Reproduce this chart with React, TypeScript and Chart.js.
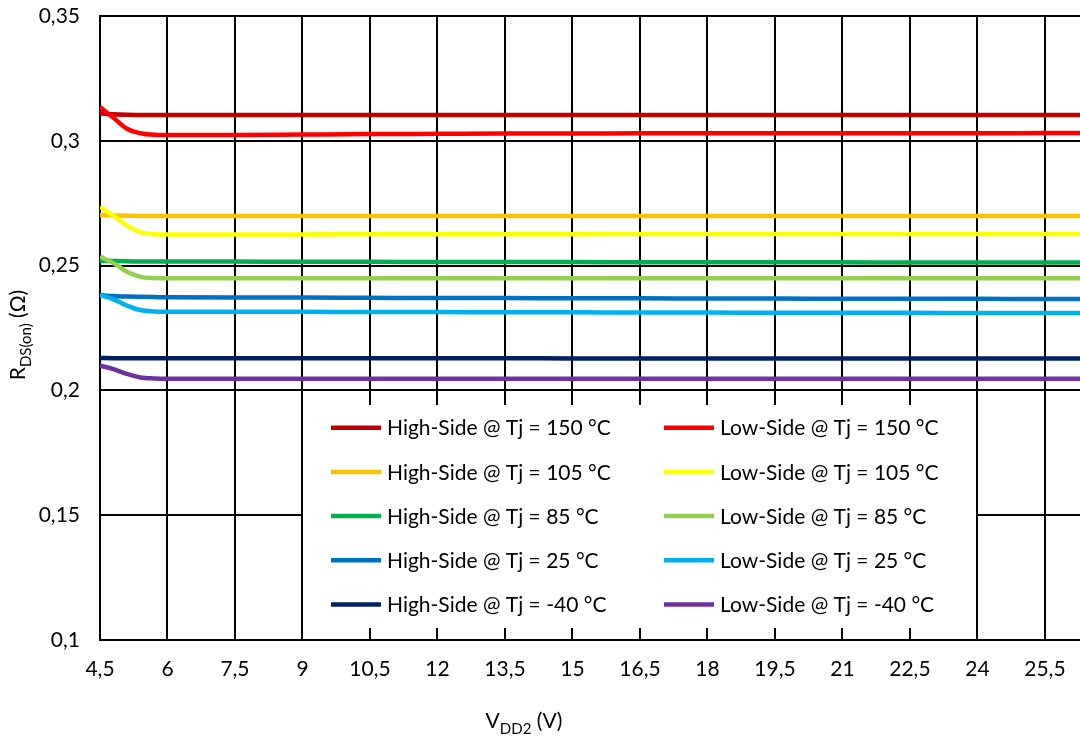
import React, { useEffect, useRef } from 'react';
import { Chart, registerables } from 'chart.js';

Chart.register(...registerables);

const X_VALUES = [4.5, 4.8, 5.1, 5.4, 5.7, 6, 7.5, 9, 10.5, 12, 13.5, 15, 16.5, 18, 19.5, 21, 22.5, 24, 25.5, 27];
const X_TICKS = [4.5, 6, 7.5, 9, 10.5, 12, 13.5, 15, 16.5, 18, 19.5, 21, 22.5, 24, 25.5];
const Y_TICKS = [0.1, 0.15, 0.2, 0.25, 0.3, 0.35];

const SERIES_LABELS = [
  'High-Side @ Tj = 150 °C',
  'Low-Side @ Tj = 150 °C',
  'High-Side @ Tj = 105 °C',
  'Low-Side @ Tj = 105 °C',
  'High-Side @ Tj = 85 °C',
  'Low-Side @ Tj = 85 °C',
  'High-Side @ Tj = 25 °C',
  'Low-Side @ Tj = 25 °C',
  'High-Side @ Tj = -40 °C',
  'Low-Side @ Tj = -40 °C',
];
const SERIES_COLORS = [
  '#C00000', '#FF0000',
  '#FFC000', '#FFFF00',
  '#00B050', '#92D050',
  '#0070C0', '#00B0F0',
  '#002060', '#7030A0',
];

const HS_150 = [0.3110, 0.3106, 0.3104, 0.3103, 0.3103, 0.3103, 0.3103, 0.3103, 0.3103, 0.3103, 0.3103, 0.3103, 0.3103, 0.3103, 0.3103, 0.3103, 0.3103, 0.3103, 0.3103, 0.3103];
const LS_150 = [0.3135, 0.3092, 0.3048, 0.3030, 0.3024, 0.3023, 0.3023, 0.3025, 0.3027, 0.3028, 0.3029, 0.3029, 0.3030, 0.3030, 0.3030, 0.3030, 0.3030, 0.3030, 0.3031, 0.3031];
const HS_105 = [0.2703, 0.2701, 0.2700, 0.2699, 0.2699, 0.2699, 0.2699, 0.2699, 0.2699, 0.2699, 0.2699, 0.2699, 0.2699, 0.2699, 0.2699, 0.2699, 0.2699, 0.2699, 0.2699, 0.2699];
const LS_105 = [0.2735, 0.2700, 0.2660, 0.2633, 0.2626, 0.2625, 0.2625, 0.2625, 0.2626, 0.2626, 0.2626, 0.2626, 0.2627, 0.2627, 0.2627, 0.2627, 0.2627, 0.2627, 0.2627, 0.2627];
const HS_85 = [0.2519, 0.2518, 0.2517, 0.2516, 0.2516, 0.2516, 0.2516, 0.2515, 0.2515, 0.2514, 0.2514, 0.2514, 0.2513, 0.2513, 0.2513, 0.2513, 0.2512, 0.2512, 0.2512, 0.2512];
const LS_85 = [0.2536, 0.2510, 0.2475, 0.2455, 0.2450, 0.2449, 0.2449, 0.2449, 0.2449, 0.2449, 0.2449, 0.2449, 0.2449, 0.2449, 0.2449, 0.2449, 0.2449, 0.2449, 0.2449, 0.2449];
const HS_25 = [0.2382, 0.2378, 0.2376, 0.2375, 0.2374, 0.2373, 0.2372, 0.2372, 0.2371, 0.2370, 0.2370, 0.2369, 0.2369, 0.2368, 0.2368, 0.2367, 0.2367, 0.2367, 0.2366, 0.2366];
const LS_25 = [0.2382, 0.2365, 0.2340, 0.2322, 0.2316, 0.2315, 0.2315, 0.2315, 0.2314, 0.2314, 0.2313, 0.2313, 0.2312, 0.2312, 0.2311, 0.2311, 0.2311, 0.2310, 0.2310, 0.2310];
const HS_M40 = [0.2130, 0.2129, 0.2129, 0.2129, 0.2129, 0.2129, 0.2129, 0.2129, 0.2129, 0.2129, 0.2129, 0.2128, 0.2128, 0.2128, 0.2128, 0.2128, 0.2128, 0.2128, 0.2128, 0.2128];
const LS_M40 = [0.2099, 0.2085, 0.2066, 0.2052, 0.2048, 0.2047, 0.2047, 0.2047, 0.2047, 0.2047, 0.2047, 0.2047, 0.2047, 0.2047, 0.2047, 0.2047, 0.2047, 0.2047, 0.2047, 0.2047];

const SERIES_VALUES = [HS_150, LS_150, HS_105, LS_105, HS_85, LS_85, HS_25, LS_25, HS_M40, LS_M40];

const FONT_FAMILY = 'Lato, "Open Sans", sans-serif';

function drawSubText(ctx: CanvasRenderingContext2D, parts: Array<[string, boolean]>, cx: number, cy: number) {
  const mainFont = `21px ${FONT_FAMILY}`;
  const subFont = `15px ${FONT_FAMILY}`;
  let total = 0;
  for (const [t, sub] of parts) {
    ctx.font = sub ? subFont : mainFont;
    total += ctx.measureText(t).width;
  }
  let x = cx - total / 2;
  ctx.textAlign = 'left';
  ctx.textBaseline = 'alphabetic';
  ctx.fillStyle = '#000';
  for (const [t, sub] of parts) {
    ctx.font = sub ? subFont : mainFont;
    ctx.fillText(t, x, cy + (sub ? 6 : 0));
    x += ctx.measureText(t).width;
  }
}

const overlayPlugin = {
  id: 'overlay',
  afterDraw(chart: any) {
    const ctx: CanvasRenderingContext2D = chart.ctx;
    ctx.save();
    const bx = 303, by = 405, bw = 673, bh = 223;
    ctx.fillStyle = '#fff';
    ctx.fillRect(bx, by, bw, bh);
    const colX = [331, 664];
    const rowY0 = 427.7, rowStep = 44.2;
    ctx.font = `21px ${FONT_FAMILY}`;
    ctx.textBaseline = 'middle';
    ctx.textAlign = 'left';
    chart.data.datasets.forEach((ds: any, i: number) => {
      const col = i % 2;
      const row = Math.floor(i / 2);
      const x = colX[col];
      const y = rowY0 + row * rowStep;
      ctx.strokeStyle = ds.borderColor;
      ctx.lineWidth = 4.5;
      ctx.beginPath();
      ctx.moveTo(x, y);
      ctx.lineTo(x + 50, y);
      ctx.stroke();
      ctx.fillStyle = '#000';
      ctx.fillText(ds.label, x + 56, y + 1);
    });
    drawSubText(ctx, [['V', false], ['DD2', true], [' (V)', false]], 524, 728);
    ctx.save();
    ctx.translate(25, 335);
    ctx.rotate(-Math.PI / 2);
    drawSubText(ctx, [['R', false], ['DS(on)', true], [' (Ω)', false]], 0, 0);
    ctx.restore();
    ctx.restore();
  },
};

export default function App() {
  const canvasRef = useRef<HTMLCanvasElement | null>(null);
  useEffect(() => {
    if (!canvasRef.current) return;
    const datasets = SERIES_VALUES.map((vals, i) => ({
      label: SERIES_LABELS[i],
      data: vals.map((v, j) => ({ x: X_VALUES[j], y: v })),
      borderColor: SERIES_COLORS[i],
      backgroundColor: SERIES_COLORS[i],
      borderWidth: 4.5,
      pointRadius: 0,
      cubicInterpolationMode: 'monotone' as const,
      fill: false,
      order: i % 2 === 0 ? 1 : 0,
    }));
    const chart = new Chart(canvasRef.current, {
      type: 'line',
      data: { datasets },
      options: {
        animation: false,
        responsive: false,
        maintainAspectRatio: false,
        layout: { padding: { top: 16, right: 0, left: 0, bottom: 0 } },
        plugins: { legend: { display: false }, tooltip: { enabled: false }, title: { display: false } },
        scales: {
          x: {
            type: 'linear',
            min: 4.5,
            max: 26.28,
            afterBuildTicks: (s: any) => { s.ticks = X_TICKS.map((value) => ({ value })); },
            afterFit: (s: any) => { s.height = 100; s.paddingLeft = 0; s.paddingRight = 0; },
            ticks: {
              callback: (v: any) => String(v).replace('.', ','),
              font: { family: FONT_FAMILY, size: 21 },
              color: '#000',
              padding: 17,
              maxRotation: 0,
              autoSkip: false,
            },
            grid: { color: '#000', lineWidth: 2, drawTicks: false },
            border: { color: '#000', width: 2 },
          },
          y: {
            type: 'linear',
            min: 0.1,
            max: 0.35,
            afterBuildTicks: (s: any) => { s.ticks = Y_TICKS.map((value) => ({ value })); },
            afterFit: (s: any) => { s.width = 100; s.paddingTop = 0; s.paddingBottom = 0; },
            ticks: {
              callback: (v: any) => String(Number(v).toFixed(2)).replace(/0+$/, '').replace(/\.$/, '').replace('.', ','),
              font: { family: FONT_FAMILY, size: 21 },
              color: '#000',
              padding: 20,
              autoSkip: false,
            },
            grid: { color: '#000', lineWidth: 2, drawTicks: false },
            border: { color: '#000', width: 2 },
          },
        },
      },
      plugins: [overlayPlugin],
    });
    return () => chart.destroy();
  }, []);
  return (
    <div style={{ position: 'absolute', left: 0, top: 0, width: 1080, height: 740, background: '#fff' }}>
      <canvas ref={canvasRef} width={1080} height={740} style={{ display: 'block' }} />
    </div>
  );
}
